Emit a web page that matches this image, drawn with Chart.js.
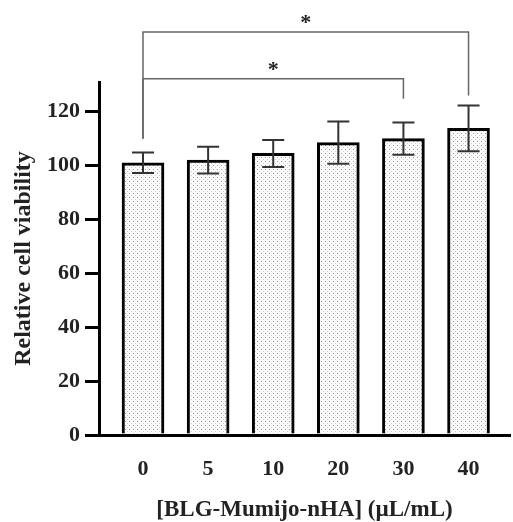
<!DOCTYPE html>
<html>
<head>
<meta charset="utf-8">
<script src="https://cdn.jsdelivr.net/npm/chart.js@4.4.1/dist/chart.umd.min.js"></script>
<style>
  body { margin: 0; background: #fff; }
</style>
</head>
<body>
<canvas id="viability" width="513" height="522"></canvas>
<script>
const categories = ["0", "5", "10", "20", "30", "40"];
const viability = [101, 102, 104.5, 108.5, 110, 113.8];
const viabilitySd = [3.8, 5, 5, 7.8, 6, 8.5];
const yTicks = [0, 20, 40, 60, 80, 100, 120];

// significance brackets: pair of groups, bar height, leg ends, star height
const sigFrom = [0, 0];
const sigTo = [5, 4];
const sigLevel = [149.6, 132.2];
const sigLegFrom = [109.9, 109.9];
const sigLegTo = [126, 124.8];
const sigStar = [154.6, 137.2];

const serif = "'Liberation Serif', 'Times New Roman', serif";

function dotPattern() {
  const c = document.createElement("canvas");
  c.width = 4;
  c.height = 4;
  const g = c.getContext("2d");
  g.fillStyle = "#fbfbfb";
  g.fillRect(0, 0, 4, 4);
  g.fillStyle = "#9a9a9a";
  g.fillRect(1, 1, 1, 1);
  g.fillStyle = "#d0d0d0";
  g.fillRect(3, 3, 1, 1);
  return g.createPattern(c, "repeat");
}

const errorBars = {
  id: "errorBars",
  afterDatasetsDraw(chart) {
    const { ctx, scales: { x, y } } = chart;
    ctx.save();
    ctx.strokeStyle = "#333";
    ctx.lineWidth = 2;
    viability.forEach((v, i) => {
      const px = x.getPixelForValue(i);
      const top = y.getPixelForValue(v + viabilitySd[i]);
      const bot = y.getPixelForValue(v - viabilitySd[i]);
      ctx.beginPath();
      ctx.moveTo(px, top);
      ctx.lineTo(px, bot);
      ctx.moveTo(px - 11, top);
      ctx.lineTo(px + 11, top);
      ctx.moveTo(px - 11, bot);
      ctx.lineTo(px + 11, bot);
      ctx.stroke();
    });

    ctx.strokeStyle = "#666";
    ctx.lineWidth = 1.5;
    ctx.fillStyle = "#222";
    ctx.font = "bold 22px " + serif;
    ctx.textAlign = "center";
    ctx.textBaseline = "alphabetic";
    sigFrom.forEach((a, k) => {
      const b = sigTo[k];
      const xa = x.getPixelForValue(a);
      const xb = x.getPixelForValue(b);
      const yl = y.getPixelForValue(sigLevel[k]);
      ctx.beginPath();
      ctx.moveTo(xa, y.getPixelForValue(sigLegFrom[k]));
      ctx.lineTo(xa, yl);
      ctx.lineTo(xb, yl);
      ctx.lineTo(xb, y.getPixelForValue(sigLegTo[k]));
      ctx.stroke();
      ctx.fillText("*", x.getPixelForValue((a + b) / 2), y.getPixelForValue(sigStar[k]) + 11);
    });
    ctx.restore();
  },
};

new Chart(document.getElementById("viability"), {
  type: "bar",
  data: {
    datasets: [
      {
        data: viability.map((v, i) => ({ x: i, y: v })),
        backgroundColor: dotPattern(),
        borderColor: "#000",
        borderWidth: 3,
        barThickness: 42,
      },
    ],
  },
  options: {
    responsive: false,
    animation: false,
    layout: { padding: { top: 82, right: 3, left: 0, bottom: 0 } },
    plugins: { legend: { display: false }, tooltip: { enabled: false } },
    scales: {
      x: {
        type: "linear",
        offset: false,
        min: -0.676,
        max: 5.637,
        afterBuildTicks: (s) => { s.ticks = categories.map((c, i) => ({ value: i })); },
        afterFit: (s) => { s.height = 87; },
        grid: { drawOnChartArea: false, drawTicks: false },
        border: { color: "#000", width: 3 },
        ticks: {
          callback: (v) => categories[v],
          padding: 21,
          color: "#222",
          font: { family: serif, size: 22, weight: "bold" },
        },
        title: {
          display: true,
          text: "[BLG-Mumijo-nHA] (\u00b5L/mL)",
          color: "#222",
          padding: 0,
          font: { family: serif, size: 23, weight: "bold", lineHeight: 1 },
        },
      },
      y: {
        min: 0,
        max: 131,
        afterBuildTicks: (s) => { s.ticks = yTicks.map((v) => ({ value: v })); },
        afterFit: (s) => { s.width = 99; },
        grid: { drawOnChartArea: false, tickLength: 14, lineWidth: 3, color: "#000" },
        border: { color: "#000", width: 3 },
        ticks: {
          padding: 5,
          color: "#222",
          font: { family: serif, size: 22, weight: "bold" },
        },
        title: {
          display: true,
          text: "Relative cell viability",
          color: "#222",
          padding: { top: 12, bottom: 0 },
          font: { family: serif, size: 24, weight: "bold", lineHeight: 1 },
        },
      },
    },
  },
  plugins: [errorBars],
});
</script>
</body>
</html>
